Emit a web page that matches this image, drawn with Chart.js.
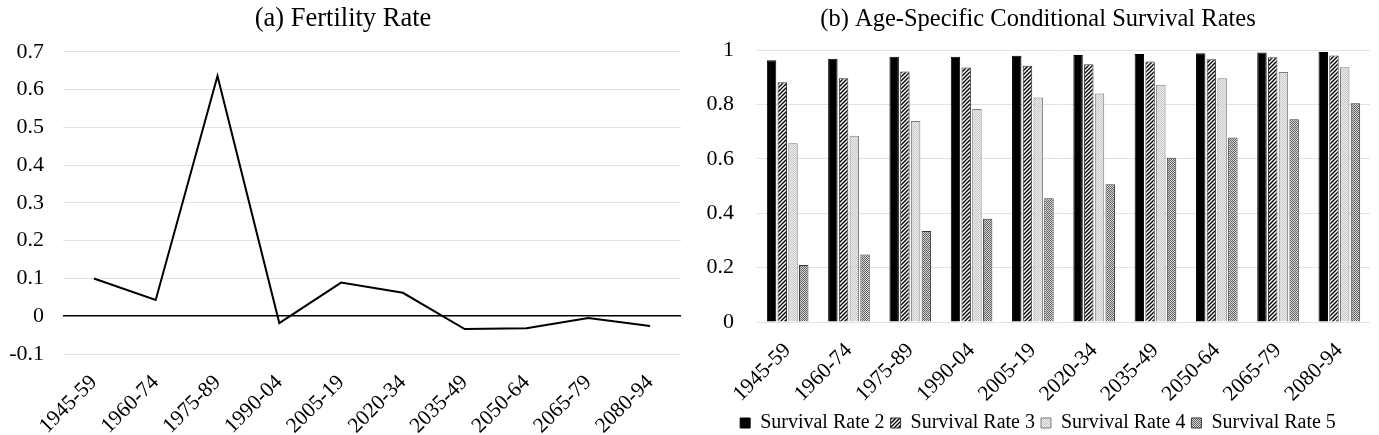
<!DOCTYPE html>
<html>
<head>
<meta charset="utf-8">
<script src="https://cdn.jsdelivr.net/npm/chart.js@4.4.1/dist/chart.umd.min.js"></script>
<style>
  html, body { margin: 0; padding: 0; background: #fff; }
  #wrap { display: flex; width: 1379px; height: 435px; }
  .box { position: relative; height: 435px; }
</style>
</head>
<body>
<div id="wrap">
  <div class="box" style="width:690px"><canvas id="c1"></canvas></div>
  <div class="box" style="width:689px"><canvas id="c2"></canvas></div>
</div>
<script>
// ---- data ----
const periods = ['1945-59','1960-74','1975-89','1990-04','2005-19','2020-34','2035-49','2050-64','2065-79','2080-94'];
const fertility = [0.100, 0.043, 0.636, -0.018, 0.089, 0.062, -0.034, -0.032, -0.005, -0.026];
const survival2 = [0.962, 0.968, 0.975, 0.975, 0.979, 0.982, 0.985, 0.988, 0.991, 0.993];
const survival3 = [0.881, 0.896, 0.921, 0.936, 0.942, 0.948, 0.958, 0.966, 0.973, 0.980];
const survival4 = [0.657, 0.685, 0.739, 0.783, 0.825, 0.840, 0.872, 0.896, 0.919, 0.937];
const survival5 = [0.210, 0.248, 0.335, 0.380, 0.455, 0.506, 0.604, 0.678, 0.745, 0.804];
const seriesNames = ['Survival Rate 2','Survival Rate 3','Survival Rate 4','Survival Rate 5'];
const leftTicks = [-0.1, 0, 0.1, 0.2, 0.3, 0.4, 0.5, 0.6, 0.7];
const rightTicks = [0, 0.2, 0.4, 0.6, 0.8, 1];

const FONT = "'Liberation Serif', 'Times New Roman', serif";

// ---- patterns ----
function makePattern(size, draw) {
  const c = document.createElement('canvas');
  c.width = size; c.height = size;
  const g = c.getContext('2d');
  draw(g, size);
  return g.createPattern(c, 'repeat');
}
const hatch = makePattern(4, (g, s) => {
  g.fillStyle = '#fff'; g.fillRect(0, 0, s, s);
  g.strokeStyle = '#000'; g.lineWidth = 1.4;
  g.beginPath();
  g.moveTo(-1, s + 1); g.lineTo(s + 1, -1);
  g.moveTo(-1, 1); g.lineTo(1, -1);
  g.moveTo(s - 1, s + 1); g.lineTo(s + 1, s - 1);
  g.stroke();
});
const lightDots = makePattern(2, (g) => {
  g.fillStyle = '#efefef'; g.fillRect(0, 0, 2, 2);
  g.fillStyle = '#c6c6c6'; g.fillRect(0, 0, 1, 1); g.fillRect(1, 1, 1, 1);
});
const darkDots = makePattern(2, (g) => {
  g.fillStyle = '#dadada'; g.fillRect(0, 0, 2, 2);
  g.fillStyle = '#5e5e5e'; g.fillRect(0, 0, 1, 1); g.fillRect(1, 1, 1, 1);
});

Chart.defaults.font.family = FONT;
Chart.defaults.color = '#000';
Chart.defaults.animation = false;

const fmt = v => {
  const r = Math.round(v * 10) / 10;
  return r === 0 ? '0' : String(r);
};

// fixes the legend box height so the legend row sits where the reference has it
const legendHeightPlugin = {
  id: 'legendHeight',
  afterInit(chart, args, opts) {
    const lg = chart.legend;
    if (!lg) return;
    const orig = lg.fit;
    lg.fit = function () { orig.call(this); this.height = opts.height; };
  }
};

// ---- left chart ----
new Chart(document.getElementById('c1'), {
  type: 'line',
  data: {
    labels: periods,
    datasets: [{
      label: 'Fertility Rate',
      data: fertility,
      borderColor: '#000',
      borderWidth: 2,
      pointRadius: 0,
      tension: 0,
      fill: false
    }]
  },
  options: {
    responsive: true,
    maintainAspectRatio: false,
    layout: { padding: { left: 5, right: 9, top: 0, bottom: 0 } },
    plugins: {
      legend: { display: false },
      tooltip: { enabled: false },
      title: {
        display: true,
        text: '(a) Fertility Rate',
        font: { family: FONT, size: 26.5, weight: 'normal' },
        color: '#000',
        padding: { top: 3, bottom: 17 }
      }
    },
    scales: {
      x: {
        offset: true,
        grid: { display: false, drawTicks: false },
        border: { display: false },
        ticks: { font: { size: 21.5 }, color: '#000', minRotation: 45, maxRotation: 45, autoSkip: false, padding: 16 },
        afterFit: s => { s.height = 81; }
      },
      y: {
        min: -0.1, max: 0.7,
        afterBuildTicks: s => { s.ticks = leftTicks.map(v => ({ value: v })); },
        grid: {
          drawTicks: false,
          color: c => (c.tick && Math.abs(c.tick.value) < 1e-9) ? '#000' : '#e2e2e2',
          lineWidth: c => (c.tick && Math.abs(c.tick.value) < 1e-9) ? 1.5 : 1
        },
        border: { display: false },
        ticks: { font: { size: 22 }, color: '#000', padding: 19, callback: v => fmt(v) },
        afterFit: s => { s.width = 58; }
      }
    }
  }
});

// ---- right chart ----
new Chart(document.getElementById('c2'), {
  type: 'bar',
  plugins: [legendHeightPlugin],
  data: {
    labels: periods,
    datasets: [
      { label: seriesNames[0], data: survival2, backgroundColor: '#000', borderColor: '#000', borderWidth: 1 },
      { label: seriesNames[1], data: survival3, backgroundColor: hatch, borderColor: '#333', borderWidth: 1 },
      { label: seriesNames[2], data: survival4, backgroundColor: lightDots, borderColor: '#7a7a7a', borderWidth: 1 },
      { label: seriesNames[3], data: survival5, backgroundColor: darkDots, borderColor: '#3a3a3a', borderWidth: 1 }
    ]
  },
  options: {
    responsive: true,
    maintainAspectRatio: false,
    layout: { padding: { left: 16, right: 9, top: 0, bottom: 0 } },
    datasets: { bar: { categoryPercentage: 0.7, barPercentage: 0.88 } },
    plugins: {
      tooltip: { enabled: false },
      legendHeight: { height: 28 },
      title: {
        display: true,
        text: '(b) Age-Specific Conditional Survival Rates',
        font: { family: FONT, size: 24.5, weight: 'normal' },
        color: '#000',
        padding: { top: 5, bottom: 15.6 }
      },
      legend: {
        display: true,
        position: 'bottom',
        labels: {
          font: { family: FONT, size: 20 },
          color: '#000',
          boxWidth: 10,
          boxHeight: 10,
          padding: 6
        }
      }
    },
    scales: {
      x: {
        grid: { display: false, drawTicks: false },
        border: { display: false },
        ticks: { font: { size: 21.5 }, color: '#000', minRotation: 45, maxRotation: 45, autoSkip: false, padding: 16 },
        afterFit: s => { s.height = 85; }
      },
      y: {
        min: 0, max: 1,
        afterBuildTicks: s => { s.ticks = rightTicks.map(v => ({ value: v })); },
        grid: { drawTicks: false, color: '#e2e2e2', lineWidth: 1 },
        border: { display: false },
        ticks: { font: { size: 22 }, color: '#000', padding: 23, callback: v => fmt(v) },
        afterFit: s => { s.width = 51; }
      }
    }
  }
});
</script>
</body>
</html>
